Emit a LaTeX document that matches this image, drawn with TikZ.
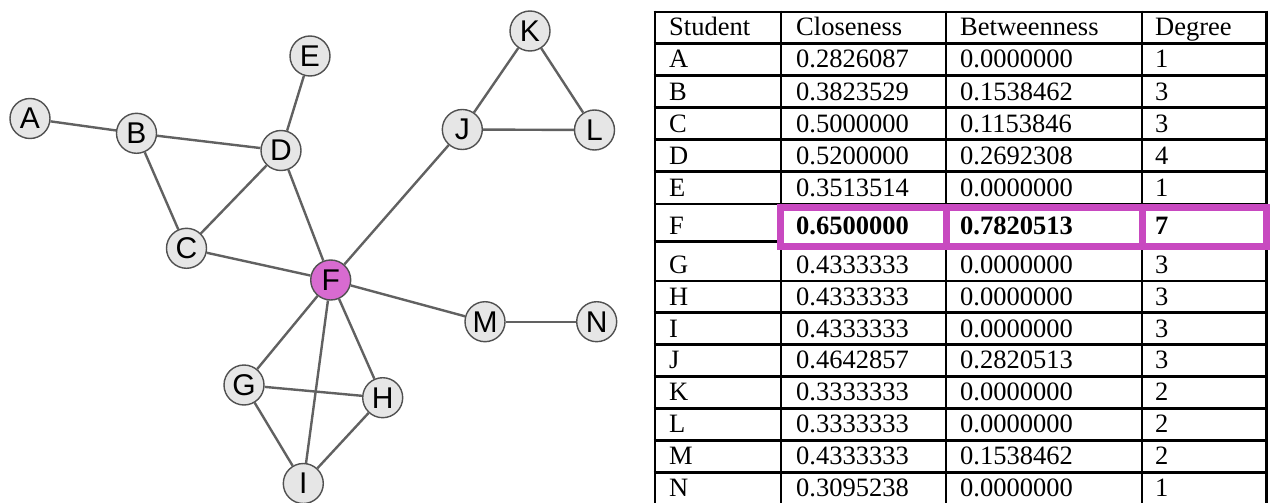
\documentclass[tikz,border=0pt]{standalone}
\usepackage{fontspec}
\setmainfont{Liberation Serif}
\newfontfamily\nodefont{Liberation Sans}
\definecolor{nodefill}{HTML}{E6E6E6}
\definecolor{nodeline}{HTML}{505050}
\definecolor{edgecol}{HTML}{616161}
\definecolor{fpink}{HTML}{D86BD0}
\definecolor{hlbox}{HTML}{C849C0}
\begin{document}
\begin{tikzpicture}[x=1pt,y=-1pt,
  vtx/.style={circle,draw=nodeline,line width=1.4pt,fill=nodefill,minimum size=40pt,inner sep=0pt,font=\nodefont\fontsize{30}{30}\selectfont},
  hub/.style={vtx,fill=fpink},
  edge/.style={draw=edgecol,line width=2.4pt},
  grid/.style={line width=2.9pt,black},
  cell/.style={anchor=base west,inner sep=0pt,font=\fontsize{26.5}{26.5}\selectfont},
  bcell/.style={cell,font=\fontsize{26.5}{26.5}\selectfont\bfseries},
  hl/.style={draw=hlbox,line width=7pt}]
\useasboundingbox (0,0) rectangle (1270,503);
% nodes
\node[vtx] (A) at (30,118.5) {A};
\node[vtx] (B) at (136.5,133.3) {B};
\node[vtx] (D) at (281,150.5) {D};
\node[vtx] (E) at (310,56) {E};
\node[vtx] (C) at (186.5,248.3) {C};
\node[hub] (F) at (330.7,280) {F};
\node[vtx] (J) at (462.3,129.5) {J};
\node[vtx] (K) at (530,31) {K};
\node[vtx] (L) at (594.5,130) {L};
\node[vtx] (M) at (485,321.7) {M};
\node[vtx] (N) at (596.7,321.7) {N};
\node[vtx] (G) at (244,385) {G};
\node[vtx] (H) at (382.7,397.7) {H};
\node[vtx] (I) at (303.3,483.5) {I};
% edges (node to node)
\foreach \u/\v in {A/B,B/D,B/C,D/E,D/C,D/F,C/F,F/J,J/K,J/L,K/L,F/M,M/N,F/G,F/I,F/H,G/H,G/I,H/I}
  \draw[edge] (\u) -- (\v);
% table grid
\foreach \y in {12,43.5,75.7,107.7,139.7,171.7,204,241.7,281,312.7,344.7,376.5,408.5,440.5,472.5}
  \draw[grid] (653.5,\y) -- (1267.9,\y);
\foreach \x in {655,781,946,1142,1266.5}
  \draw[grid] (\x,10.6) -- (\x,503);
% table text
\node[cell] (h1) at (669,35.8) {Student};
\node[cell] (h2) at (796,35.8) {Closeness};
\node[cell] (h3) at (960,35.8) {Betweenness};
\node[cell] (h4) at (1155,35.8) {Degree};
\foreach \n/\s/\c/\b/\d/\y in {
  rA/A/0.2826087/0.0000000/1/68,
  rB/B/0.3823529/0.1538462/3/100,
  rC/C/0.5000000/0.1153846/3/132,
  rD/D/0.5200000/0.2692308/4/164,
  rE/E/0.3513514/0.0000000/1/196.3,
  rG/G/0.4333333/0.0000000/3/273.3,
  rH/H/0.4333333/0.0000000/3/305,
  rI/I/0.4333333/0.0000000/3/337,
  rJ/J/0.4642857/0.2820513/3/368.8,
  rK/K/0.3333333/0.0000000/2/400.8,
  rL/L/0.3333333/0.0000000/2/432.8,
  rM/M/0.4333333/0.1538462/2/464.8,
  rN/N/0.3095238/0.0000000/1/496.3}{
  \node[cell] (\n s) at (669,\y) {\s};
  \node[cell] (\n c) at (796,\y) {\c};
  \node[cell] (\n b) at (960,\y) {\b};
  \node[cell] (\n d) at (1155,\y) {\d};
}
% highlighted F row
\fill[white] (784,208) rectangle (1263,245);
\node[cell] (rFs) at (669,234) {F};
\node[bcell] (rFc) at (796,234) {0.6500000};
\node[bcell] (rFb) at (960,234) {0.7820513};
\node[bcell] (rFd) at (1155,234) {7};
\draw[hl] (780.5,207) rectangle (1266.5,246);
\draw[hl] (946,207) -- (946,246);
\draw[hl] (1142,207) -- (1142,246);
\end{tikzpicture}
\end{document}
